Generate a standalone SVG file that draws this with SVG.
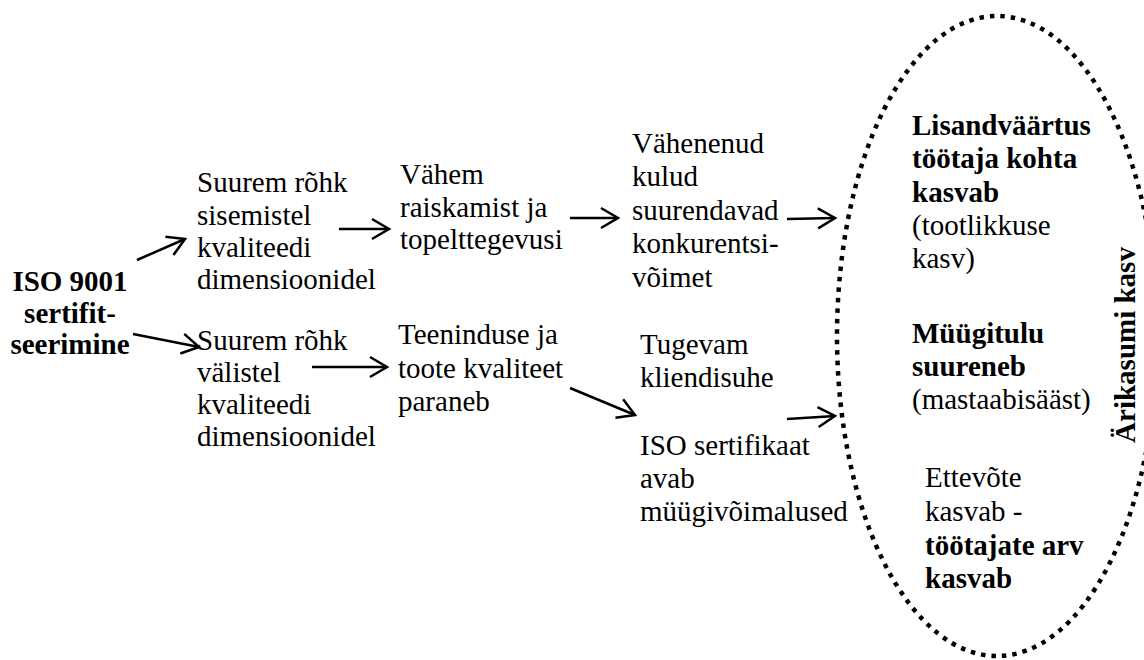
<svg xmlns="http://www.w3.org/2000/svg" width="1144" height="660" viewBox="0 0 1144 660">
<style>
text { font-family: "Liberation Serif", serif; font-size: 29px; fill: #000; }
.b { font-weight: bold; }
#connectors line { stroke: #000; stroke-width: 2.5; fill: none; marker-end: url(#ah); }
.ell { fill: none; stroke: #000; stroke-width: 4.5; stroke-dasharray: 4.5 6; }
</style>
<defs>
<marker id="ah" markerUnits="userSpaceOnUse" markerWidth="26" markerHeight="26" viewBox="-22 -13 26 26" refX="0" refY="0" orient="auto">
<path d="M-17,-10 L0,0 L-17,10" fill="none" stroke="#000" stroke-width="2.5"/>
</marker>
</defs>
<rect width="1144" height="660" fill="#fff"/>

<g font-family="Liberation Serif, serif" font-size="29">
<g id="benefit-ellipse">
<ellipse class="ell" cx="997" cy="336" rx="160" ry="320"/>
<text class="b" font-weight="bold" transform="translate(1135,345) rotate(-90)" text-anchor="middle">Ärikasumi kasv</text>
</g>

<g id="connectors">
<line x1="137" y1="260" x2="185" y2="239"/>
<line x1="133" y1="334" x2="199" y2="347"/>
<line x1="339" y1="229" x2="389" y2="229"/>
<line x1="312" y1="367" x2="387" y2="367"/>
<line x1="570" y1="218" x2="618" y2="218"/>
<line x1="570" y1="388" x2="635" y2="415"/>
<line x1="787" y1="219" x2="835" y2="218"/>
<line x1="787" y1="419" x2="835" y2="416"/>
</g>

<g id="iso-9001">
<text class="b" font-weight="bold" text-anchor="middle"><tspan x="70" y="291">ISO 9001</tspan><tspan x="70" y="323">sertifit-</tspan><tspan x="70" y="354">seerimine</tspan></text>
</g>

<g id="internal-focus">
<text><tspan x="197" y="192">Suurem rõhk</tspan><tspan x="197" y="225">sisemistel</tspan><tspan x="197" y="257">kvaliteedi</tspan><tspan x="197" y="289">dimensioonidel</tspan></text>
</g>

<g id="external-focus">
<text><tspan x="197" y="350">Suurem rõhk</tspan><tspan x="197" y="382">välistel</tspan><tspan x="197" y="414">kvaliteedi</tspan><tspan x="197" y="446">dimensioonidel</tspan></text>
</g>

<g id="less-waste">
<text><tspan x="400" y="184">Vähem</tspan><tspan x="400" y="217">raiskamist ja</tspan><tspan x="400" y="249">topelttegevusi</tspan></text>
</g>

<g id="quality-improves">
<text><tspan x="398" y="344">Teeninduse ja</tspan><tspan x="398" y="378">toote kvaliteet</tspan><tspan x="398" y="411">paraneb</tspan></text>
</g>

<g id="lower-costs">
<text><tspan x="632" y="153">Vähenenud</tspan><tspan x="632" y="186">kulud</tspan><tspan x="632" y="220">suurendavad</tspan><tspan x="632" y="253">konkurentsi-</tspan><tspan x="632" y="287">võimet</tspan></text>
</g>

<g id="customer-relation">
<text><tspan x="640" y="354">Tugevam</tspan><tspan x="640" y="387">kliendisuhe</tspan></text>
</g>

<g id="sales-opportunities">
<text><tspan x="640" y="455">ISO sertifikaat</tspan><tspan x="640" y="488">avab</tspan><tspan x="640" y="521">müügivõimalused</tspan></text>
</g>

<g id="value-added">
<text><tspan class="b" font-weight="bold" x="912" y="135">Lisandväärtus</tspan><tspan class="b" font-weight="bold" x="912" y="168">töötaja kohta</tspan><tspan class="b" font-weight="bold" x="912" y="202">kasvab</tspan><tspan x="912" y="235">(tootlikkuse</tspan><tspan x="912" y="268">kasv)</tspan></text>
</g>

<g id="sales-revenue">
<text><tspan class="b" font-weight="bold" x="912" y="343">Müügitulu</tspan><tspan class="b" font-weight="bold" x="912" y="376">suureneb</tspan><tspan x="912" y="409">(mastaabisääst)</tspan></text>
</g>

<g id="company-grows">
<text><tspan x="925" y="487">Ettevõte</tspan><tspan x="925" y="521">kasvab -</tspan><tspan class="b" font-weight="bold" x="925" y="555">töötajate arv</tspan><tspan class="b" font-weight="bold" x="925" y="588">kasvab</tspan></text>
</g>
</g>
</svg>
